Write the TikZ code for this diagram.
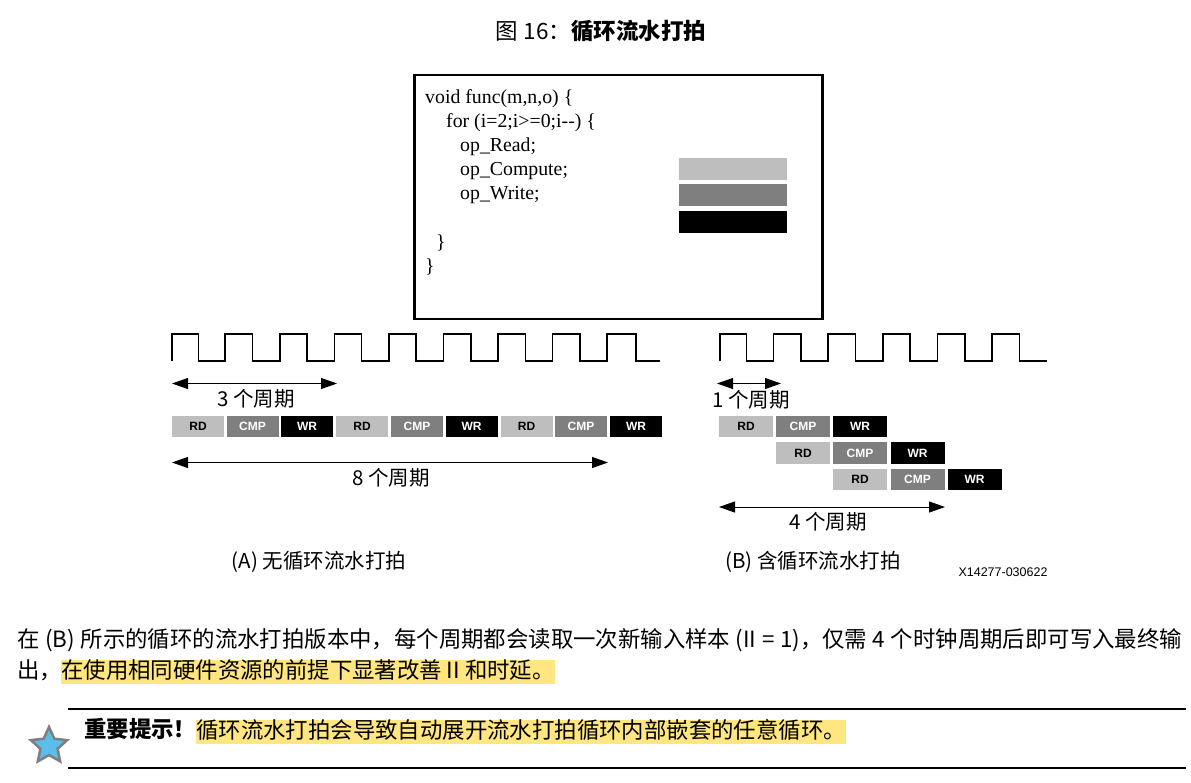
\documentclass[tikz,border=0pt]{standalone}
\usepackage{fontspec}
\setmainfont{Noto Sans CJK SC}
\newfontfamily\codefont{Liberation Serif}
\newfontfamily\boxfont{Liberation Sans}
\usepackage{tikz}
\usetikzlibrary{arrows.meta}
\usetikzlibrary{shapes.geometric}
\usepackage{xcolor}
\definecolor{rdgray}{HTML}{BEBEBE}
\definecolor{cmpgray}{HTML}{7F7F7F}
\definecolor{hlyellow}{HTML}{FFE680}
\definecolor{starblue}{HTML}{5BBDEB}

\begin{document}
\begin{tikzpicture}[
    x=1pt, y=-1pt,
    codeline/.style={anchor=west, inner sep=0pt, font=\codefont\fontsize{19.8}{22}\selectfont},
    opbar/.style={rectangle, minimum width=108pt, minimum height=22pt, inner sep=0pt},
    stage/.style={rectangle, minimum height=21.5pt, inner sep=0pt, font=\boxfont\bfseries\fontsize{12}{14}\selectfont},
    rdbox/.style={stage, fill=rdgray, text=black},
    cmpbox/.style={stage, fill=cmpgray, text=white},
    wrbox/.style={stage, fill=black, text=white},
    clock/.style={line width=1.5pt},
    span/.style={{Triangle[length=16pt,width=11pt]}-{Triangle[length=16pt,width=11pt]}, line width=1pt},
    cyclelabel/.style={inner sep=0pt, font=\fontsize{20.5}{24}\selectfont},
    bodytext/.style={anchor=west, inner sep=0pt, text height=17pt, text depth=3pt, font=\fontsize{22.4}{26}\selectfont},
    marked/.style={bodytext, fill=hlyellow, inner ysep=2pt},
    rule/.style={line width=2pt}
]
    \useasboundingbox (0,0) rectangle (1191,782);

    % Title
    \node[inner sep=0pt, font=\fontsize{22.5}{26}\selectfont] (title) at (601,31) {图 16：\textbf{循环流水打拍}};

    % Code box
    \node[draw, line width=2.5pt, minimum width=408pt, minimum height=244pt, inner sep=0pt] (codebox) at (618.5,197) {};
    \node[codeline] (l1) at (425,99) {void func(m,n,o) \{};
    \node[codeline] (l2) at (446,123) {for (i=2;i>=0;i--) \{};
    \node[codeline] (l3) at (460,147) {op\_Read;};
    \node[codeline] (l4) at (460,171) {op\_Compute;};
    \node[codeline] (l5) at (460,195) {op\_Write;};
    \node[codeline] (l6) at (436,243) {\}};
    \node[codeline] (l7) at (425,267) {\}};
    \node[opbar, fill=rdgray] (barrd) at (733,169) {};
    \node[opbar, fill=cmpgray] (barcmp) at (733,195) {};
    \node[opbar, fill=black] (barwr) at (733,222) {};

    % Clocks
    \draw[clock] (172,361) |- (198.3,334) |- (225,361) |- (252.6,334) |- (279.8,361) |- (307,334) |- (334.4,361) |- (361.6,334) |- (389,361) |- (416.2,334) |- (443.6,361) |- (470.8,334) |- (498,361) |- (525.4,334) |- (552.6,361) |- (580,334) |- (607.2,361) |- (636,334) |- (660,361);
    \draw[clock] (720,361) |- (746.5,334) |- (773.5,361) |- (801,334) |- (828,361) |- (855.6,334) |- (883,361) |- (910.2,334) |- (937.6,361) |- (965,334) |- (992.2,361) |- (1019.5,334) |- (1047,361);

    % Case A
    \coordinate (a3s) at (172,383.5);
    \coordinate (a3e) at (337,383.5);
    \coordinate (a8s) at (172,462.5);
    \coordinate (a8e) at (608,462.5);
    \draw[span] (a3s) -- (a3e);
    \node[cyclelabel] (a3label) at (256,399) {3 个周期};
    \node[rdbox, minimum width=52pt] (ard1) at (198,426.5) {RD};
    \node[cmpbox, minimum width=52pt] (acmp1) at (252.5,426.5) {CMP};
    \node[wrbox, minimum width=52pt] (awr1) at (307,426.5) {WR};
    \node[rdbox, minimum width=52pt] (ard2) at (362,426.5) {RD};
    \node[cmpbox, minimum width=52pt] (acmp2) at (417,426.5) {CMP};
    \node[wrbox, minimum width=52pt] (awr2) at (471.5,426.5) {WR};
    \node[rdbox, minimum width=52pt] (ard3) at (526.5,426.5) {RD};
    \node[cmpbox, minimum width=52pt] (acmp3) at (581,426.5) {CMP};
    \node[wrbox, minimum width=52pt] (awr3) at (636,426.5) {WR};
    \draw[span] (a8s) -- (a8e);
    \node[cyclelabel] (a8label) at (391,478) {8 个周期};
    \node[cyclelabel] (acap) at (319,562) {(A) 无循环流水打拍};

    % Case B
    \coordinate (b1s) at (717,383.5);
    \coordinate (b1e) at (781,383.5);
    \coordinate (b4s) at (719,507);
    \coordinate (b4e) at (945,507);
    \draw[span] (b1s) -- (b1e);
    \node[cyclelabel] (b1label) at (751,400) {1 个周期};
    \node[rdbox, minimum width=54pt] (brd1) at (746,426.5) {RD};
    \node[cmpbox, minimum width=54pt] (bcmp1) at (803,426.5) {CMP};
    \node[wrbox, minimum width=54pt] (bwr1) at (860,426.5) {WR};
    \node[rdbox, minimum width=54pt] (brd2) at (803,453) {RD};
    \node[cmpbox, minimum width=54pt] (bcmp2) at (860,453) {CMP};
    \node[wrbox, minimum width=54pt] (bwr2) at (917.5,453) {WR};
    \node[rdbox, minimum width=54pt] (brd3) at (860,479.5) {RD};
    \node[cmpbox, minimum width=54pt] (bcmp3) at (917.5,479.5) {CMP};
    \node[wrbox, minimum width=54pt] (bwr3) at (974.5,479.5) {WR};
    \draw[span] (b4s) -- (b4e);
    \node[cyclelabel] (b4label) at (828,522) {4 个周期};
    \node[cyclelabel] (bcap) at (813,562) {(B) 含循环流水打拍};
    \node[inner sep=0pt, font=\boxfont\fontsize{12.5}{14}\selectfont] (figid) at (1003,572) {X14277-030622};

    % Paragraph
    \node[bodytext] (para1) at (17,640) {\makebox[1165pt][s]{在 (B) 所示的循环的流水打拍版本中，每个周期都会读取一次新输入样本 (II = 1)，仅需 4 个时钟周期后即可写入最终输}};
    \node[bodytext] (para2) at (17,671.5) {出，};
    \node[marked] (para3) at (61,671.5) {在使用相同硬件资源的前提下显著改善 II 和时延。};

    % Note
    \coordinate (rule1s) at (68,709);
    \coordinate (rule1e) at (1186,709);
    \coordinate (rule2s) at (68,768);
    \coordinate (rule2e) at (1186,768);
    \draw[rule] (rule1s) -- (rule1e);
    \draw[rule] (rule2s) -- (rule2e);
    \node[star, star points=5, star point ratio=2.1, draw=cmpgray, line width=2.5pt, fill=starblue, minimum size=38pt, inner sep=0pt] (star) at (49,746) {};
    \node[bodytext] (note1) at (84,730) {\textbf{重要提示！}};
    \node[marked] (note2) at (196,731.5) {循环流水打拍会导致自动展开流水打拍循环内部嵌套的任意循环。};
\end{tikzpicture}
\end{document}
